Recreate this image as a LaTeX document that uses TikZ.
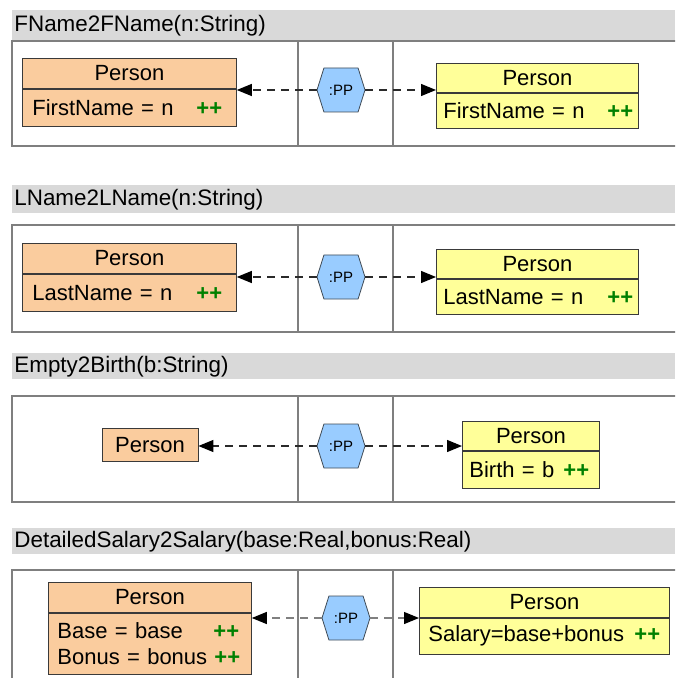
\documentclass[tikz,border=0pt]{standalone}
\usepackage{fontspec}
\setmainfont{Liberation Sans}
\usepackage{xcolor}
\usepackage{tikz}
\usetikzlibrary{shapes, shapes.symbols, arrows.meta, positioning}
\definecolor{bandgray}{HTML}{D9D9D9}
\definecolor{framegray}{HTML}{7F7F7F}
\definecolor{boxline}{HTML}{3A3A3A}
\definecolor{srcfill}{HTML}{FACC9E}
\definecolor{tgtfill}{HTML}{FFFF99}
\definecolor{rulefill}{HTML}{99CCFF}
\definecolor{ruleline}{HTML}{3F4A55}
\definecolor{plusgreen}{HTML}{008000}
\definecolor{linkdark}{HTML}{2A2A2A}
\definecolor{linkgray}{HTML}{808080}
\newcommand{\plusplus}{\textcolor{plusgreen}{\textbf{++}}}
\tikzstyle{band} = [rectangle, fill=bandgray, anchor=north west, minimum width=331.5pt, text width=329.5pt, inner xsep=1pt, inner ysep=0pt, align=left, font=\fontsize{11.2}{13}\selectfont]
\tikzstyle{frame} = [draw=framegray, line width=1pt]
\tikzstyle{divider} = [draw=framegray, line width=0.6pt]
\tikzstyle{srchead} = [rectangle, draw=boxline, fill=srcfill, anchor=north west, minimum height=15pt, inner sep=0pt, font=\fontsize{11}{13}\selectfont]
\tikzstyle{srcbody} = [rectangle, draw=boxline, fill=srcfill, minimum height=18.5pt, inner ysep=0pt, align=left, font=\fontsize{11}{13}\selectfont]
\tikzstyle{tgthead} = [rectangle, draw=boxline, fill=tgtfill, anchor=north west, minimum height=14.5pt, inner sep=0pt, font=\fontsize{11}{13}\selectfont]
\tikzstyle{tgtbody} = [rectangle, draw=boxline, fill=tgtfill, minimum height=17.5pt, inner ysep=0pt, inner xsep=3.5pt, align=left, font=\fontsize{11}{13}\selectfont]
\tikzstyle{rule} = [signal, signal from=nowhere, signal to=east and west, signal pointer angle=145, draw=ruleline, fill=rulefill, minimum width=24pt, minimum height=22pt, inner sep=0pt, font=\fontsize{7.5}{9}\selectfont]
\tikzstyle{link} = [draw=linkdark, line width=0.6pt, dash pattern=on 4pt off 3pt, -{Triangle[length=7.5pt,width=6pt,color=black]}]

\begin{document}
\begin{tikzpicture}[x=0.5pt, y=-0.5pt, node distance=0pt]
    \useasboundingbox (0,0) rectangle (675,678);
    \clip (0,0) rectangle (675,678);

    \node (band1) [band, minimum height=15pt] at (12,10) {FName2FName(n:String)};
    \node (band2) [band, minimum height=14pt] at (12,185) {LName2LName(n:String)};
    \node (band3) [band, minimum height=13pt] at (12,353) {Empty2Birth(b:String)};
    \node (band4) [band, minimum height=13pt] at (12,528) {DetailedSalary2Salary(base:Real,bonus:Real)};

    \draw [frame] (12,41) rectangle (690,146);
    \draw [frame] (12,225) rectangle (690,332);
    \draw [frame] (12,396) rectangle (690,502);
    \draw [frame] (12,570) rectangle (690,700);
    \foreach \top/\bot in {41/146, 225/332, 396/502, 570/700} {
        \draw [divider] (298,\top) -- (298,\bot);
        \draw [divider] (393,\top) -- (393,\bot);
    }

    \node (src1) [srchead, minimum width=107pt] at (22,58) {Person};
    \node (src1b) [srcbody, below=of src1, text width=97pt, inner xsep=5pt] {\makebox[82pt][l]{FirstName = n}\plusplus};
    \node (pp1) [rule] at (341,90) {:PP};
    \node (tgt1) [tgthead, minimum width=101pt] at (436,63) {Person};
    \node (tgt1b) [tgtbody, below=of tgt1, text width=94pt] {\makebox[82pt][l]{FirstName = n}\plusplus};

    \node (src2) [srchead, minimum width=107pt] at (22,243) {Person};
    \node (src2b) [srcbody, below=of src2, text width=97pt, inner xsep=5pt] {\makebox[82pt][l]{LastName = n}\plusplus};
    \node (pp2) [rule] at (341,277) {:PP};
    \node (tgt2) [tgthead, minimum width=101pt] at (436,249) {Person};
    \node (tgt2b) [tgtbody, below=of tgt2, text width=94pt] {\makebox[82pt][l]{LastName = n}\plusplus};

    \node (src3) [srchead, anchor=center, minimum width=48pt, minimum height=16.5pt] at (150,445) {Person};
    \node (pp3) [rule] at (341,446) {:PP};
    \node (tgt3) [tgthead, minimum width=68.5pt] at (462,421) {Person};
    \node (tgt3b) [tgtbody, below=of tgt3, minimum height=18.5pt, text width=61.5pt] {\makebox[47pt][l]{Birth = b}\plusplus};

    \node (src4) [srchead, minimum width=101.5pt] at (48,582) {Person};
    \node (src4b) [srcbody, below=of src4, minimum height=30.5pt, text width=92.5pt, inner xsep=4.5pt] {\makebox[78pt][l]{Base = base}\plusplus\\\makebox[78.5pt][l]{Bonus = bonus}\plusplus};
    \node (pp4) [rule] at (346,618) {:PP};
    \node (tgt4) [tgthead, minimum width=125pt, minimum height=15pt] at (419,587) {Person};
    \node (tgt4b) [tgtbody, below=of tgt4, minimum height=18pt, text width=116pt, inner xsep=4.5pt] {\makebox[103pt][l]{Salary=base+bonus}\plusplus};

    \draw [link] (pp1.west) -- (pp1.west -| src1.east);
    \draw [link] (pp1.east) -- (pp1.east -| tgt1.west);
    \draw [link] (pp2.west) -- (pp2.west -| src2.east);
    \draw [link] (pp2.east) -- (pp2.east -| tgt2.west);
    \draw [link] (pp3.west) -- (pp3.west -| src3.east);
    \draw [link] (pp3.east) -- (pp3.east -| tgt3.west);
    \draw [link, draw=linkgray] (pp4.west) -- (pp4.west -| src4.east);
    \draw [link, draw=linkgray] (pp4.east) -- (pp4.east -| tgt4.west);
\end{tikzpicture}
\end{document}
